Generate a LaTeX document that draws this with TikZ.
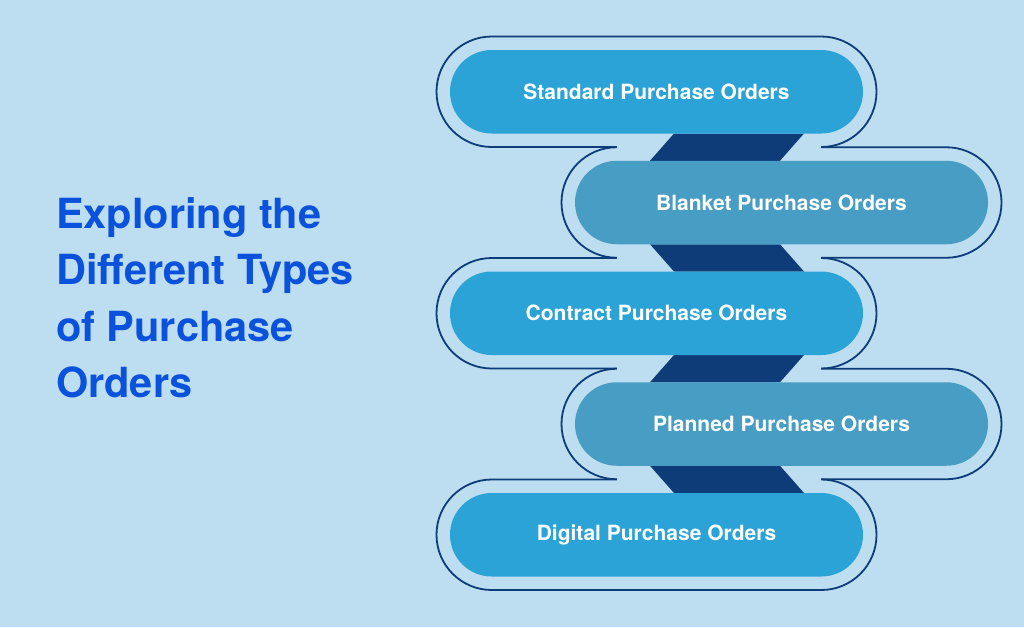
\documentclass[tikz,border=0pt]{standalone}
\usepackage{fontspec}
\setmainfont{TeX Gyre Heros}
\usetikzlibrary{calc}
\definecolor{bg}{HTML}{BDDDF0}
\definecolor{pillA}{HTML}{2BA3D6}
\definecolor{pillB}{HTML}{479DC4}
\definecolor{navy}{HTML}{0D3C78}
\definecolor{ttl}{HTML}{0A52DC}

\begin{document}
\begin{tikzpicture}[x=1pt,y=-1pt,
  ring/.style={draw=navy,line width=1.8pt,fill=bg,outer sep=0pt,inner sep=0pt,
    minimum width=440pt,minimum height=110.5pt,rounded corners=55.25pt},
  pill/.style={minimum width=413pt,minimum height=83.5pt,rounded corners=41.75pt,
    inner sep=0pt,text=white,font=\bfseries\fontsize{21}{25}\selectfont}]
  \fill[bg] (0,0) rectangle (1024,627);
  \useasboundingbox (0,0) rectangle (1024,627);
  % outer rings
  \foreach \i/\x in {1/656.5,2/781.5,3/656.5,4/781.5,5/656.5}
    \node[ring] (o\i) at (\x,{91.75+110.75*(\i-1)}) {};
  \coordinate (jl) at ($(o2.west)+(55.25,0)$);
  \coordinate (jr) at ($(o1.east)+(-55.25,0)$);
  \foreach \a in {1,...,4}
    \draw[bg,line width=6pt] (jl |- o\a.south) -- (jr |- o\a.south);
  % zigzag bands
  \foreach \a/\b/\u/\v in {1/2/17.5/-131.5,2/3/-131.5/17.5,3/4/17.5/-131.5,4/5/-131.5/17.5}
    \fill[navy] ($(o\a.south)+(\u,-13.5)$) -- ++(130,0)
      -- ($(o\b.north)+(\v+130,13.5)$) -- ++(-130,0) -- cycle;
  % pills
  \node[pill,fill=pillA] (p1) at (o1) {Standard Purchase Orders};
  \node[pill,fill=pillB] (p2) at (o2) {Blanket Purchase Orders};
  \node[pill,fill=pillA] (p3) at (o3) {Contract Purchase Orders};
  \node[pill,fill=pillB] (p4) at (o4) {Planned Purchase Orders};
  \node[pill,fill=pillA] (p5) at (o5) {Digital Purchase Orders};
  \node[anchor=north west,inner sep=0pt,align=left,text=ttl,
    font=\bfseries\fontsize{41.5}{56.5}\selectfont] (title) at (56,197)
    {Exploring the\\Different Types\\of Purchase\\Orders};
\end{tikzpicture}
\end{document}
